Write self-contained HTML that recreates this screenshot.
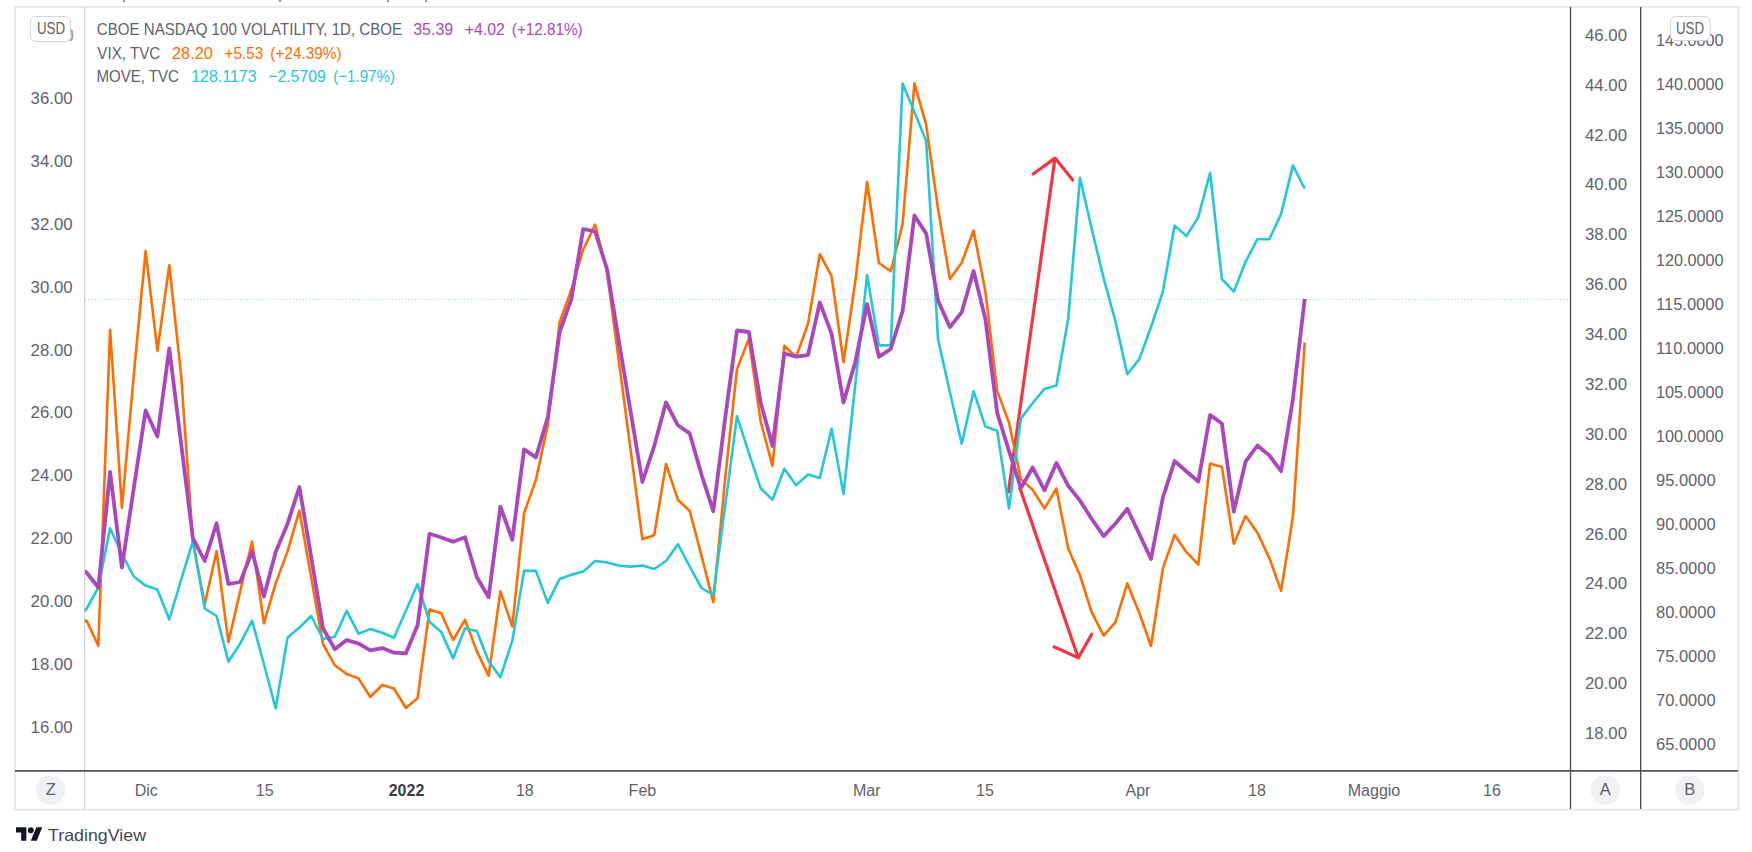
<!DOCTYPE html>
<html><head><meta charset="utf-8"><title>TradingView chart</title>
<style>html,body{margin:0;padding:0;background:#fff;width:1752px;height:852px;overflow:hidden}</style>
</head><body>
<svg width="1752" height="852" viewBox="0 0 1752 852" style="display:block;font-family:'Liberation Sans',sans-serif">
<rect x="0" y="0" width="1752" height="852" fill="#ffffff"/>
<rect x="123" y="0" width="2" height="2" fill="#9598a1"/>
<rect x="279" y="0" width="2" height="2" fill="#9598a1"/>
<rect x="387" y="0" width="2" height="2" fill="#9598a1"/>
<rect x="425" y="0" width="2" height="2" fill="#9598a1"/>
<rect x="15" y="7" width="1723.4" height="802.6" fill="none" stroke="#e3e5eb" stroke-width="1.7"/>
<defs><clipPath id="cp"><rect x="85" y="8" width="1485" height="762"/></clipPath></defs>
<line x1="85" y1="299.5" x2="1570" y2="299.5" stroke="#8fd3cc" stroke-width="1" stroke-dasharray="1 2.3"/>
<g clip-path="url(#cp)" fill="none" stroke-linejoin="round">
<g stroke="#f23645" stroke-width="3.2" stroke-linecap="butt">
<polyline points="1008.2,493.4 1055,158.1"/>
<polyline points="1032.1,174.8 1055,158.1 1073.5,181"/>
<polyline points="1019.5,487 1078.3,657.9"/>
<polyline points="1053,646.2 1078.3,657.9 1092.4,633"/>
</g>
<polyline points="74.6,627.1 86.5,620.5 98.3,645.7 110.1,329.7 121.9,507.9 133.8,374.8 145.6,251.1 157.4,350.8 169.3,265.2 181.1,375.1 192.9,541.5 204.7,604.2 216.6,551.3 228.4,642.2 240.2,591.3 252.1,541.5 263.9,623.4 275.7,583.1 287.5,551.6 299.4,510.7 311.2,577.4 323.0,644.1 334.8,665.2 346.7,674.0 358.5,678.4 370.3,697.0 382.2,685.0 394.0,688.5 405.8,708.0 417.6,698.3 429.5,609.5 441.3,613.3 453.1,640.0 465.0,619.9 476.8,651.1 488.6,675.9 500.4,591.3 512.3,626.5 524.1,513.2 535.9,479.9 547.8,425.1 559.6,322.5 571.4,289.5 583.2,249.8 595.1,224.6 606.9,270.9 618.7,360.0 630.5,449.0 642.4,539.3 654.2,535.2 666.0,464.1 677.9,499.7 689.7,511.0 701.5,555.7 713.3,602.3 725.2,478.0 737.0,369.4 748.8,338.9 760.7,421.6 772.5,466.0 784.3,345.8 796.1,357.1 808.0,323.8 819.8,254.2 831.6,276.2 843.5,362.2 855.3,281.6 867.1,181.8 878.9,263.0 890.8,271.2 902.6,224.0 914.4,83.3 926.2,124.9 938.1,209.2 949.9,279.1 961.7,262.7 973.6,230.6 985.4,291.7 997.2,391.1 1009.0,422.6 1020.9,479.2 1032.7,489.9 1044.5,508.5 1056.4,488.7 1068.2,548.5 1080.0,575.5 1091.8,612.7 1103.7,635.6 1115.5,622.1 1127.3,583.4 1139.2,612.7 1151.0,646.0 1162.8,568.6 1174.6,534.9 1186.5,552.2 1198.3,564.5 1210.1,463.5 1221.9,467.0 1233.8,543.7 1245.6,516.1 1257.4,532.7 1269.3,557.9 1281.1,590.9 1292.9,516.7 1304.7,342.7" stroke="#ff6d00" stroke-width="2.6"/>
<polyline points="74.6,620.0 86.5,609.0 98.3,587.5 110.1,528.2 121.9,554.0 133.8,576.5 145.6,585.6 157.4,589.5 169.3,619.5 181.1,580.0 192.9,541.0 204.7,608.5 216.6,616.0 228.4,661.8 240.2,643.5 252.1,620.6 263.9,664.0 275.7,708.3 287.5,637.8 299.4,627.5 311.2,616.0 323.0,639.0 334.8,636.7 346.7,610.8 358.5,633.7 370.3,629.1 382.2,632.8 394.0,637.8 405.8,611.0 417.6,584.0 429.5,621.8 441.3,632.1 453.1,658.4 465.0,628.2 476.8,631.0 488.6,661.3 500.4,677.3 512.3,640.7 524.1,570.9 535.9,570.9 547.8,602.9 559.6,578.9 571.4,574.8 583.2,571.6 595.1,561.0 606.9,562.4 618.7,565.6 630.5,566.6 642.4,565.5 654.2,569.0 666.0,561.0 677.9,544.2 689.7,566.5 701.5,588.0 713.3,594.9 725.2,505.5 737.0,416.2 748.8,452.8 760.7,488.3 772.5,499.7 784.3,468.8 796.1,485.3 808.0,474.5 819.8,478.0 831.6,428.8 843.5,494.0 855.3,384.5 867.1,275.1 878.9,345.4 890.8,345.4 902.6,83.5 914.4,112.0 926.2,141.0 938.1,339.7 949.9,392.0 961.7,443.8 973.6,391.2 985.4,426.6 997.2,430.7 1009.0,508.5 1020.9,418.6 1032.7,403.0 1044.5,388.9 1056.4,385.4 1068.2,319.1 1080.0,177.7 1091.8,229.3 1103.7,278.4 1115.5,321.6 1127.3,374.2 1139.2,359.4 1151.0,327.0 1162.8,292.0 1174.6,225.6 1186.5,236.1 1198.3,217.1 1210.1,172.8 1221.9,279.0 1233.8,291.7 1245.6,261.7 1257.4,239.3 1269.3,239.3 1281.1,214.0 1292.9,165.4 1304.7,188.6" stroke="#26c6da" stroke-width="2.6"/>
<polyline points="74.6,565.0 86.5,572.5 98.3,587.5 110.1,472.0 121.9,567.5 133.8,488.0 145.6,410.5 157.4,436.5 169.3,348.5 181.1,443.5 192.9,538.2 204.7,561.0 216.6,523.3 228.4,584.0 240.2,582.0 252.1,551.5 263.9,596.5 275.7,552.0 287.5,523.9 299.4,487.0 311.2,557.0 323.0,628.3 334.8,649.2 346.7,640.1 358.5,643.5 370.3,650.4 382.2,648.1 394.0,652.7 405.8,653.4 417.6,625.2 429.5,533.8 441.3,537.5 453.1,541.8 465.0,537.3 476.8,577.0 488.6,597.2 500.4,506.6 512.3,539.8 524.1,449.4 535.9,457.4 547.8,417.3 559.6,332.2 571.4,299.0 583.2,229.0 595.1,231.5 606.9,268.6 618.7,340.0 630.5,411.0 642.4,482.0 654.2,446.0 666.0,402.5 677.9,425.3 689.7,433.4 701.5,474.5 713.3,511.2 725.2,418.0 737.0,330.5 748.8,332.0 760.7,402.5 772.5,446.0 784.3,353.5 796.1,356.7 808.0,355.1 819.8,302.4 831.6,333.8 843.5,402.5 855.3,362.0 867.1,304.0 878.9,356.8 890.8,348.8 902.6,311.1 914.4,215.5 926.2,233.6 938.1,300.8 949.9,327.1 961.7,312.2 973.6,271.0 985.4,319.1 997.2,412.9 1009.0,451.0 1020.9,488.1 1032.7,467.5 1044.5,490.3 1056.4,462.9 1068.2,485.8 1080.0,500.6 1091.8,519.0 1103.7,536.1 1115.5,523.5 1127.3,508.7 1139.2,533.8 1151.0,559.0 1162.8,498.0 1174.6,461.0 1186.5,471.5 1198.3,481.5 1210.1,415.0 1221.9,423.5 1233.8,511.5 1245.6,461.7 1257.4,445.5 1269.3,455.4 1281.1,471.2 1292.9,399.4 1304.7,299.0" stroke="#ab47bc" stroke-width="3.8"/>
</g>
<line x1="84.5" y1="7" x2="84.5" y2="809" stroke="#c8cbd2" stroke-width="1"/>
<line x1="1570.5" y1="7" x2="1570.5" y2="809" stroke="#50535e" stroke-width="1.4"/>
<line x1="1640.7" y1="7" x2="1640.7" y2="809" stroke="#50535e" stroke-width="1.4"/>
<line x1="15" y1="770.9" x2="1738" y2="770.9" stroke="#50535e" stroke-width="1.6"/>
<text x="72.6" y="103.7" text-anchor="end" font-size="16.5" fill="#5f626b" textLength="42" lengthAdjust="spacingAndGlyphs">36.00</text>
<text x="72.6" y="166.6" text-anchor="end" font-size="16.5" fill="#5f626b" textLength="42" lengthAdjust="spacingAndGlyphs">34.00</text>
<text x="72.6" y="229.6" text-anchor="end" font-size="16.5" fill="#5f626b" textLength="42" lengthAdjust="spacingAndGlyphs">32.00</text>
<text x="72.6" y="292.5" text-anchor="end" font-size="16.5" fill="#5f626b" textLength="42" lengthAdjust="spacingAndGlyphs">30.00</text>
<text x="72.6" y="355.5" text-anchor="end" font-size="16.5" fill="#5f626b" textLength="42" lengthAdjust="spacingAndGlyphs">28.00</text>
<text x="72.6" y="418.4" text-anchor="end" font-size="16.5" fill="#5f626b" textLength="42" lengthAdjust="spacingAndGlyphs">26.00</text>
<text x="72.6" y="481.3" text-anchor="end" font-size="16.5" fill="#5f626b" textLength="42" lengthAdjust="spacingAndGlyphs">24.00</text>
<text x="72.6" y="544.3" text-anchor="end" font-size="16.5" fill="#5f626b" textLength="42" lengthAdjust="spacingAndGlyphs">22.00</text>
<text x="72.6" y="607.2" text-anchor="end" font-size="16.5" fill="#5f626b" textLength="42" lengthAdjust="spacingAndGlyphs">20.00</text>
<text x="72.6" y="670.2" text-anchor="end" font-size="16.5" fill="#5f626b" textLength="42" lengthAdjust="spacingAndGlyphs">18.00</text>
<text x="72.6" y="733.1" text-anchor="end" font-size="16.5" fill="#5f626b" textLength="42" lengthAdjust="spacingAndGlyphs">16.00</text>
<text x="1585" y="40.7" font-size="16.5" fill="#5f626b" textLength="42" lengthAdjust="spacingAndGlyphs">46.00</text>
<text x="1585" y="90.6" font-size="16.5" fill="#5f626b" textLength="42" lengthAdjust="spacingAndGlyphs">44.00</text>
<text x="1585" y="140.5" font-size="16.5" fill="#5f626b" textLength="42" lengthAdjust="spacingAndGlyphs">42.00</text>
<text x="1585" y="190.3" font-size="16.5" fill="#5f626b" textLength="42" lengthAdjust="spacingAndGlyphs">40.00</text>
<text x="1585" y="240.2" font-size="16.5" fill="#5f626b" textLength="42" lengthAdjust="spacingAndGlyphs">38.00</text>
<text x="1585" y="290.1" font-size="16.5" fill="#5f626b" textLength="42" lengthAdjust="spacingAndGlyphs">36.00</text>
<text x="1585" y="340.0" font-size="16.5" fill="#5f626b" textLength="42" lengthAdjust="spacingAndGlyphs">34.00</text>
<text x="1585" y="389.9" font-size="16.5" fill="#5f626b" textLength="42" lengthAdjust="spacingAndGlyphs">32.00</text>
<text x="1585" y="439.7" font-size="16.5" fill="#5f626b" textLength="42" lengthAdjust="spacingAndGlyphs">30.00</text>
<text x="1585" y="489.6" font-size="16.5" fill="#5f626b" textLength="42" lengthAdjust="spacingAndGlyphs">28.00</text>
<text x="1585" y="539.5" font-size="16.5" fill="#5f626b" textLength="42" lengthAdjust="spacingAndGlyphs">26.00</text>
<text x="1585" y="589.4" font-size="16.5" fill="#5f626b" textLength="42" lengthAdjust="spacingAndGlyphs">24.00</text>
<text x="1585" y="639.3" font-size="16.5" fill="#5f626b" textLength="42" lengthAdjust="spacingAndGlyphs">22.00</text>
<text x="1585" y="689.1" font-size="16.5" fill="#5f626b" textLength="42" lengthAdjust="spacingAndGlyphs">20.00</text>
<text x="1585" y="739.0" font-size="16.5" fill="#5f626b" textLength="42" lengthAdjust="spacingAndGlyphs">18.00</text>
<text x="1656" y="46.2" font-size="16.5" fill="#5f626b" textLength="67.6" lengthAdjust="spacingAndGlyphs">145.0000</text>
<text x="1656" y="90.2" font-size="16.5" fill="#5f626b" textLength="67.6" lengthAdjust="spacingAndGlyphs">140.0000</text>
<text x="1656" y="134.2" font-size="16.5" fill="#5f626b" textLength="67.6" lengthAdjust="spacingAndGlyphs">135.0000</text>
<text x="1656" y="178.2" font-size="16.5" fill="#5f626b" textLength="67.6" lengthAdjust="spacingAndGlyphs">130.0000</text>
<text x="1656" y="222.2" font-size="16.5" fill="#5f626b" textLength="67.6" lengthAdjust="spacingAndGlyphs">125.0000</text>
<text x="1656" y="266.2" font-size="16.5" fill="#5f626b" textLength="67.6" lengthAdjust="spacingAndGlyphs">120.0000</text>
<text x="1656" y="310.2" font-size="16.5" fill="#5f626b" textLength="67.6" lengthAdjust="spacingAndGlyphs">115.0000</text>
<text x="1656" y="354.2" font-size="16.5" fill="#5f626b" textLength="67.6" lengthAdjust="spacingAndGlyphs">110.0000</text>
<text x="1656" y="398.2" font-size="16.5" fill="#5f626b" textLength="67.6" lengthAdjust="spacingAndGlyphs">105.0000</text>
<text x="1656" y="442.2" font-size="16.5" fill="#5f626b" textLength="67.6" lengthAdjust="spacingAndGlyphs">100.0000</text>
<text x="1656" y="486.2" font-size="16.5" fill="#5f626b" textLength="59.6" lengthAdjust="spacingAndGlyphs">95.0000</text>
<text x="1656" y="530.2" font-size="16.5" fill="#5f626b" textLength="59.6" lengthAdjust="spacingAndGlyphs">90.0000</text>
<text x="1656" y="574.1" font-size="16.5" fill="#5f626b" textLength="59.6" lengthAdjust="spacingAndGlyphs">85.0000</text>
<text x="1656" y="618.1" font-size="16.5" fill="#5f626b" textLength="59.6" lengthAdjust="spacingAndGlyphs">80.0000</text>
<text x="1656" y="662.1" font-size="16.5" fill="#5f626b" textLength="59.6" lengthAdjust="spacingAndGlyphs">75.0000</text>
<text x="1656" y="706.1" font-size="16.5" fill="#5f626b" textLength="59.6" lengthAdjust="spacingAndGlyphs">70.0000</text>
<text x="1656" y="750.1" font-size="16.5" fill="#5f626b" textLength="59.6" lengthAdjust="spacingAndGlyphs">65.0000</text>
<path d="M70.5,29.5 Q72.3,30.5 72.3,33.5 L72.3,37 Q72.3,39.8 69.8,40.6" fill="none" stroke="#9fa2aa" stroke-width="1.9"/>
<rect x="30.5" y="16.5" width="40" height="25" rx="5" fill="#ffffff" stroke="#d1d4dc" stroke-width="1"/>
<text x="36.9" y="33.8" font-size="16" fill="#5f626b" textLength="28.1" lengthAdjust="spacingAndGlyphs">USD</text>
<rect x="1670.5" y="16.5" width="39.5" height="24" rx="5" fill="#ffffff" stroke="#d1d4dc" stroke-width="1"/>
<text x="1675.9" y="33.9" font-size="16" fill="#5f626b" textLength="28.2" lengthAdjust="spacingAndGlyphs">USD</text>
<text x="96.85" y="34.6" font-size="17" fill="#5f626b" textLength="305.25" lengthAdjust="spacingAndGlyphs">CBOE NASDAQ 100 VOLATILITY, 1D, CBOE</text>
<text x="413.2" y="34.6" font-size="17" fill="#ab47bc" textLength="40.1" lengthAdjust="spacingAndGlyphs">35.39</text>
<text x="464.8" y="34.6" font-size="17" fill="#ab47bc" textLength="40.1" lengthAdjust="spacingAndGlyphs">+4.02</text>
<text x="511.8" y="34.6" font-size="17" fill="#ab47bc" textLength="70.9" lengthAdjust="spacingAndGlyphs">(+12.81%)</text>
<text x="97.3" y="58.8" font-size="17" fill="#5f626b" textLength="63.0" lengthAdjust="spacingAndGlyphs">VIX, TVC</text>
<text x="172.1" y="58.8" font-size="17" fill="#ff6d00" textLength="40.6" lengthAdjust="spacingAndGlyphs">28.20</text>
<text x="224.4" y="58.8" font-size="17" fill="#ff6d00" textLength="39.0" lengthAdjust="spacingAndGlyphs">+5.53</text>
<text x="270.3" y="58.8" font-size="17" fill="#ff6d00" textLength="71.2" lengthAdjust="spacingAndGlyphs">(+24.39%)</text>
<text x="96.4" y="82.2" font-size="17" fill="#5f626b" textLength="82.6" lengthAdjust="spacingAndGlyphs">MOVE, TVC</text>
<text x="191.2" y="82.2" font-size="17" fill="#26c6da" textLength="65.4" lengthAdjust="spacingAndGlyphs">128.1173</text>
<text x="268.2" y="82.2" font-size="17" fill="#26c6da" textLength="57.6" lengthAdjust="spacingAndGlyphs">−2.5709</text>
<text x="333.3" y="82.2" font-size="17" fill="#26c6da" textLength="61.6" lengthAdjust="spacingAndGlyphs">(−1.97%)</text>
<text x="146.3" y="795.8" text-anchor="middle" font-size="16" fill="#5f626b">Dic</text>
<text x="264.7" y="795.8" text-anchor="middle" font-size="16" fill="#5f626b">15</text>
<text x="406.5" y="795.8" text-anchor="middle" font-size="16" font-weight="bold" fill="#3b3e47">2022</text>
<text x="524.8" y="795.8" text-anchor="middle" font-size="16" fill="#5f626b">18</text>
<text x="642.4" y="795.8" text-anchor="middle" font-size="16" fill="#5f626b">Feb</text>
<text x="866.8" y="795.8" text-anchor="middle" font-size="16" fill="#5f626b">Mar</text>
<text x="985" y="795.8" text-anchor="middle" font-size="16" fill="#5f626b">15</text>
<text x="1138" y="795.8" text-anchor="middle" font-size="16" fill="#5f626b">Apr</text>
<text x="1257" y="795.8" text-anchor="middle" font-size="16" fill="#5f626b">18</text>
<text x="1374" y="795.8" text-anchor="middle" font-size="16" fill="#5f626b">Maggio</text>
<text x="1492" y="795.8" text-anchor="middle" font-size="16" fill="#5f626b">16</text>
<circle cx="50.7" cy="790" r="14.7" fill="#f0f1f4"/>
<text x="50.7" y="794.9" text-anchor="middle" font-size="16.5" fill="#5f626b">Z</text>
<circle cx="1605.3" cy="790" r="14.7" fill="#f0f1f4"/>
<text x="1605.3" y="794.9" text-anchor="middle" font-size="16.5" fill="#5f626b">A</text>
<circle cx="1689.8" cy="790" r="14.7" fill="#f0f1f4"/>
<text x="1689.8" y="794.9" text-anchor="middle" font-size="16.5" fill="#5f626b">B</text>
<g transform="translate(16,824.4) scale(0.74)" fill="#131722"><path d="M14 22H7V11H0V4h14v18zM28 22h-8l7.5-18h8L28 22z"/><circle cx="20" cy="8" r="4"/></g>
<text x="48" y="840.7" font-size="16.5" fill="#434651" textLength="98" lengthAdjust="spacingAndGlyphs">TradingView</text>
</svg>
</body></html>
